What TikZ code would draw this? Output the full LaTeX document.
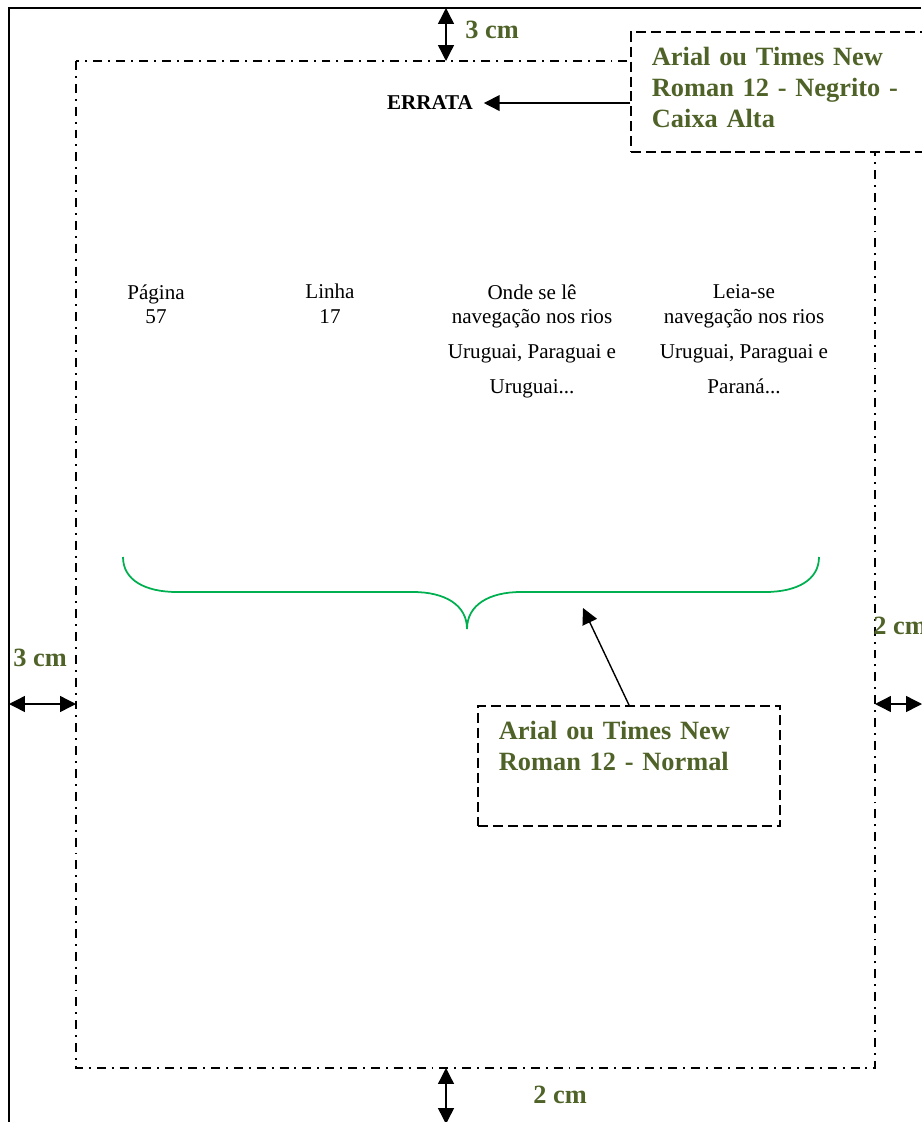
\documentclass[tikz,border=0pt]{standalone}
\usepackage{fontspec}
\setmainfont{Liberation Serif}
\usetikzlibrary{arrows.meta}
\definecolor{notegreen}{RGB}{79,98,40}
\definecolor{bracegreen}{RGB}{0,176,80}

\begin{document}
\begin{tikzpicture}[
    x=0.02cm, y=-0.02cm,
    edge/.style={line width=1.1pt},
    margin/.style={line width=1pt, dash pattern=on 5.1pt off 3.4pt on 1.1pt off 3.4pt},
    note/.style={rectangle, draw, fill=white, line width=1pt,
                 dash pattern=on 5.7pt off 2.8pt, anchor=north west,
                 text=notegreen, font=\fontsize{15}{17.9}\selectfont\bfseries,
                 align=left, inner xsep=12pt, inner ysep=8.5pt},
    dimlbl/.style={anchor=base west, inner sep=0pt, text=notegreen,
                 font=\fontsize{15}{17.9}\selectfont\bfseries},
    cell/.style={anchor=north, inner sep=0pt, align=center,
                 font=\fontsize{12}{14.2}\selectfont},
    arr/.style={-{Triangle[length=9pt, width=9pt]}, line width=0.8pt},
    dim/.style={{Triangle[length=9pt, width=9pt]}-{Triangle[length=9pt, width=9pt]},
                 line width=0.8pt},
    brace/.style={draw=bracegreen, line width=1pt},
  ]
  \useasboundingbox (0,0) rectangle (921,1122);

  \coordinate (pgNW) at (9,8);
  \coordinate (pgNE) at (921,8);
  \coordinate (pgSW) at (9,1122);
  \coordinate (mNW)  at (76,61);
  \coordinate (mSE)  at (875,1068);
  \draw[edge] (pgNE) -- (pgNW) -- (pgSW);
  \draw[margin] (mNW) rectangle (mSE);

  \node[note, text width=150pt] (note1) at (630,31)
       {Arial ou Times New\\Roman 12 - Negrito -\\Caixa Alta\strut};
  \node[font=\fontsize{12}{14.2}\selectfont\bfseries, inner xsep=6pt, anchor=base]
       (errata) at (430,110) {ERRATA};

  \node[cell] (pag)  at (156,284) {Página\\57};
  \node[cell] (lin)  at (330,284) {Linha\\17};
  \node[cell] (onde) at (532,284)
       {Onde se lê\\navegação nos rios\\[5.7pt]Uruguai, Paraguai e\\[5.7pt]Uruguai...};
  \node[cell] (leia) at (744,284)
       {Leia-se\\navegação nos rios\\[5.7pt]Uruguai, Paraguai e\\[5.7pt]Paraná...};

  \draw[brace] (123,557) .. controls (123,580) and (145,592) .. (177,592)
     -- (413,592) .. controls (445,592) and (467,605) .. (467,629)
     .. controls (467,605) and (489,592) .. (521,592)
     -- (765,592) .. controls (797,592) and (819,580) .. (819,557);
  \coordinate (braceMid) at (583,608);

  \node[note, text width=148pt] (note2) at (477,705)
       {Arial ou Times New\\Roman 12 - Normal\\\strut};

  \coordinate (topA) at (446,8);
  \coordinate (topB) at (446,61);
  \coordinate (botA) at (446,1068);
  \coordinate (botB) at (446,1124);
  \coordinate (lftA) at (9,704);
  \coordinate (lftB) at (76,704);
  \coordinate (rgtA) at (875,704);
  \coordinate (rgtB) at (922,704);

  \node[dimlbl] (topLbl) at (465,39)   {3 cm};
  \node[dimlbl] (lftLbl) at (13,666)   {3 cm};
  \node[dimlbl] (rgtLbl) at (873,634)  {2 cm};
  \node[dimlbl] (botLbl) at (533,1103) {2 cm};

  \draw[dim] (topA) -- (topB);
  \draw[dim] (botA) -- (botB);
  \draw[dim] (lftA) -- (lftB);
  \draw[dim] (rgtA) -- (rgtB);
  \draw[arr] (errata.east -| note1.west) -- (errata.east);
  \draw[arr] (note2.north) -- (braceMid);
\end{tikzpicture}
\end{document}
